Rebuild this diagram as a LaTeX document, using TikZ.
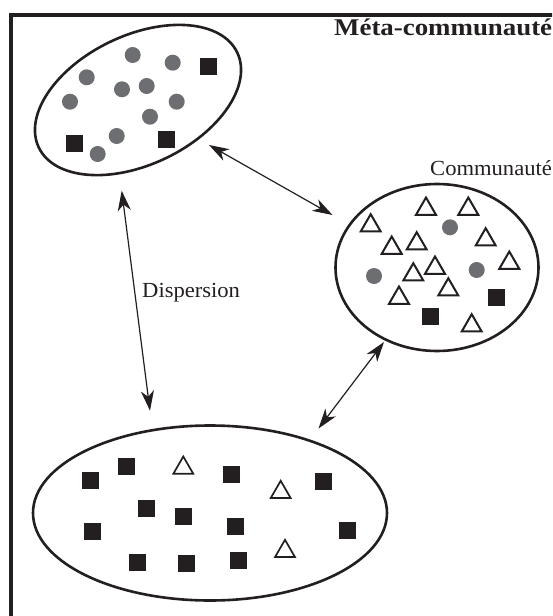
\documentclass[tikz,border=0pt]{standalone}
\usepackage{fontspec}
\usetikzlibrary{shapes.geometric,arrows.meta}
\newfontfamily\labelfont[FakeStretch=1.05]{Liberation Serif}
\newfontfamily\titlefont[FakeStretch=1.12]{Liberation Serif}
\definecolor{sqcol}{HTML}{231F20}
\definecolor{dotcol}{HTML}{6D6E71}
\begin{document}
\begin{tikzpicture}[x=1pt,y=-1pt,
  habitat/.style={draw=sqcol, line width=2.6pt, ellipse, inner sep=0pt},
  sq/.style={rectangle, fill=sqcol, minimum size=17pt, inner sep=0pt},
  dot/.style={circle, fill=dotcol, minimum size=16pt, inner sep=0pt},
  tri/.style={regular polygon, regular polygon sides=3, draw=sqcol, line width=2pt, minimum size=23pt, inner sep=0pt},
  trithin/.style={tri, line width=1.7pt},
  biarrow/.style={{Stealth[length=20pt,width=13pt,inset=6pt]}-{Stealth[length=20pt,width=13pt,inset=6pt]}, line width=1.2pt, draw=sqcol},
  lbl/.style={inner sep=0pt, anchor=base west, text=sqcol}]
\useasboundingbox (0,0) rectangle (552,616);
\clip (0,0) rectangle (552,616);
\fill[white] (0,0) rectangle (552,616);
\draw[line width=3.5pt, color=sqcol] (11,15) rectangle (620,700);

% habitats
\node[habitat, minimum width=220pt, minimum height=129pt, rotate=25.6] (meta1) at (138,100) {};
\node[habitat, minimum width=203pt, minimum height=167pt] (comm) at (437,267.5) {};
\node[habitat, minimum width=354pt, minimum height=175pt] (meta3) at (210,513) {};

% top community
\foreach \x/\y [count=\i] in {132.7/55,172.7/62.7,86.7/77.3,122/89.3,146.7/86,70/101.7,176.7/101.7,150/116.7,116.7/136,97.7/154}
  \node[dot] (m1d\i) at (\x,\y) {};
\foreach \x/\y [count=\i] in {208.3/66.7,74.3/143.3,166.7/139}
  \node[sq] (m1s\i) at (\x,\y) {};

% right community
\foreach \x/\y [count=\i] in {426/206,468.3/206,370.7/222.7,485.7/236.7,391.7/245,416.7/240.7,509.3/260,435/265,413.3/271.7,448.3/286.7,399/295,471.7/322.7}
  \node[tri] (ct\i) at (\x,\y+3) {};
\foreach \x/\y [count=\i] in {450/227.3,374/276,476.7/270}
  \node[dot] (cd\i) at (\x,\y) {};
\foreach \x/\y [count=\i] in {496/297.7,430.7/316.7}
  \node[sq] (cs\i) at (\x,\y) {};

% bottom community
\foreach \x/\y [count=\i] in {90/480.7,126/466.7,231.7/474,323.3/481.7,146.7/508.3,183.3/516.7,92.3/531.7,235.7/526,347.3/530.7,137.3/562.3,186.7/563.3,238.3/560}
  \node[sq] (m3s\i) at (\x,\y) {};
\foreach \x/\y [count=\i] in {183.3/465,280.7/489.3,285/548.3}
  \node[trithin] (m3t\i) at (\x,\y+3) {};

% dispersal arrows
\coordinate (a1s) at (209,145);
\coordinate (a1e) at (332.5,215);
\coordinate (a2s) at (121.7,190.7);
\coordinate (a2e) at (150,410.7);
\coordinate (a3s) at (384,342);
\coordinate (a3e) at (318.5,428.5);
\draw[biarrow] (a1s) -- (a1e);
\draw[biarrow] (a2s) -- (a2e);
\draw[biarrow] (a3s) -- (a3e);

% labels
\node[lbl] (title) at (334,35) {\titlefont\fontsize{24}{28}\selectfont\bfseries Méta-communauté};
\node[lbl] (commlbl) at (430,175) {\labelfont\fontsize{21.5}{25}\selectfont Communauté};
\node[lbl] (displbl) at (142,297) {\labelfont\fontsize{21.5}{25}\selectfont Dispersion};
\end{tikzpicture}
\end{document}
